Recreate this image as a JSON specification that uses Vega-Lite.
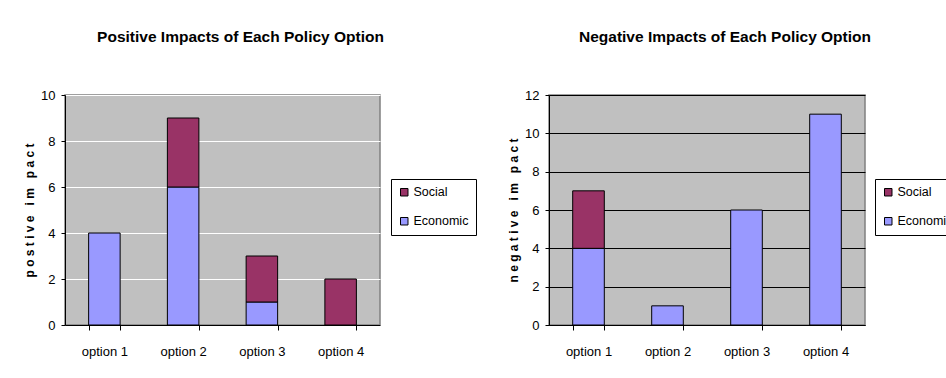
{
  "$schema": "https://vega.github.io/schema/vega-lite/v6.json",
  "background": "white",
  "padding": {"left": 22, "top": 28, "right": 0, "bottom": 0},
  "datasets": {
    "positive": [
      {"option": "option 1", "type": "Economic", "impact": 4},
      {"option": "option 2", "type": "Economic", "impact": 6},
      {"option": "option 2", "type": "Social", "impact": 3},
      {"option": "option 3", "type": "Economic", "impact": 1},
      {"option": "option 3", "type": "Social", "impact": 2},
      {"option": "option 4", "type": "Social", "impact": 2}
    ],
    "negative": [
      {"option": "option 1", "type": "Economic", "impact": 4},
      {"option": "option 1", "type": "Social", "impact": 3},
      {"option": "option 2", "type": "Economic", "impact": 1},
      {"option": "option 3", "type": "Economic", "impact": 6},
      {"option": "option 4", "type": "Economic", "impact": 11}
    ]
  },
  "spacing": 28,
  "resolve": {
    "scale": {"color": "independent", "y": "independent", "x": "independent"},
    "legend": {"color": "independent"}
  },
  "hconcat": [
    {
      "data": {"name": "positive"},
      "width": 315,
      "height": 230,
      "title": {"text": "Positive Impacts of Each Policy Option", "dx": 18, "offset": 44},
      "view": {"fill": "#C0C0C0", "stroke": "#808080", "strokeWidth": 1.5},
      "mark": {"type": "bar", "stroke": "black", "strokeWidth": 1},
      "encoding": {
        "x": {
          "field": "option", "type": "nominal",
          "scale": {"paddingInner": 0.6, "paddingOuter": 0.3},
          "axis": {"title": null, "labelAngle": 0, "tickBand": "extent", "grid": false}
        },
        "y": {
          "field": "impact", "type": "quantitative", "stack": "zero",
          "scale": {"domain": [0, 10], "nice": false},
          "axis": {"title": "p o s t i v e\u00a0\u00a0 i m\u00a0\u00a0 p a c t", "values": [0, 2, 4, 6, 8, 10], "gridColor": "white"}
        },
        "color": {
          "field": "type", "type": "nominal",
          "scale": {"domain": ["Social", "Economic"], "range": ["#993366", "#9999FF"]},
          "legend": {"title": null, "orient": "none", "legendX": 326, "legendY": 84}
        },
        "order": {"field": "type", "sort": "ascending"}
      }
    },
    {
      "data": {"name": "negative"},
      "width": 316,
      "height": 230,
      "title": {"text": "Negative Impacts of Each Policy Option", "dx": 18, "offset": 44},
      "view": {"fill": "#C0C0C0", "stroke": "#808080", "strokeWidth": 1.5},
      "mark": {"type": "bar", "stroke": "black", "strokeWidth": 1},
      "encoding": {
        "x": {
          "field": "option", "type": "nominal",
          "scale": {"paddingInner": 0.6, "paddingOuter": 0.3},
          "axis": {"title": null, "labelAngle": 0, "tickBand": "extent", "grid": false}
        },
        "y": {
          "field": "impact", "type": "quantitative", "stack": "zero",
          "scale": {"domain": [0, 12], "nice": false},
          "axis": {"title": "n e g a t i v e\u00a0\u00a0 i m\u00a0\u00a0 p a c t", "values": [0, 2, 4, 6, 8, 10, 12], "gridColor": "black"}
        },
        "color": {
          "field": "type", "type": "nominal",
          "scale": {"domain": ["Social", "Economic"], "range": ["#993366", "#9999FF"]},
          "legend": {"title": null, "orient": "none", "legendX": 326, "legendY": 84}
        },
        "order": {"field": "type", "sort": "ascending"}
      }
    }
  ],
  "config": {
    "font": "Liberation Sans",
    "title": {"font": "Liberation Sans", "fontSize": 15.5, "fontWeight": "bold", "color": "black", "anchor": "middle"},
    "axis": {
      "domainColor": "black", "domainWidth": 1, "tickColor": "black", "tickSize": 4,
      "labelFont": "Liberation Sans", "labelFontSize": 13, "labelColor": "black",
      "titleFont": "Liberation Sans", "titleFontSize": 12, "titleFontWeight": "bold", "titleColor": "black",
      "gridWidth": 1, "gridOpacity": 1
    },
    "axisX": {"labelPadding": 15, "tickSize": 5},
    "axisY": {"labelPadding": 6, "titlePadding": 4},
    "legend": {
      "strokeColor": "black", "fillColor": "white", "padding": 7,
      "symbolType": "square", "symbolSize": 56, "symbolStrokeColor": "black", "symbolStrokeWidth": 1, "symbolOpacity": 1,
      "labelFont": "Liberation Sans", "labelFontSize": 12.5, "labelColor": "black", "labelOffset": 3,
      "rowPadding": 16
    }
  }
}
